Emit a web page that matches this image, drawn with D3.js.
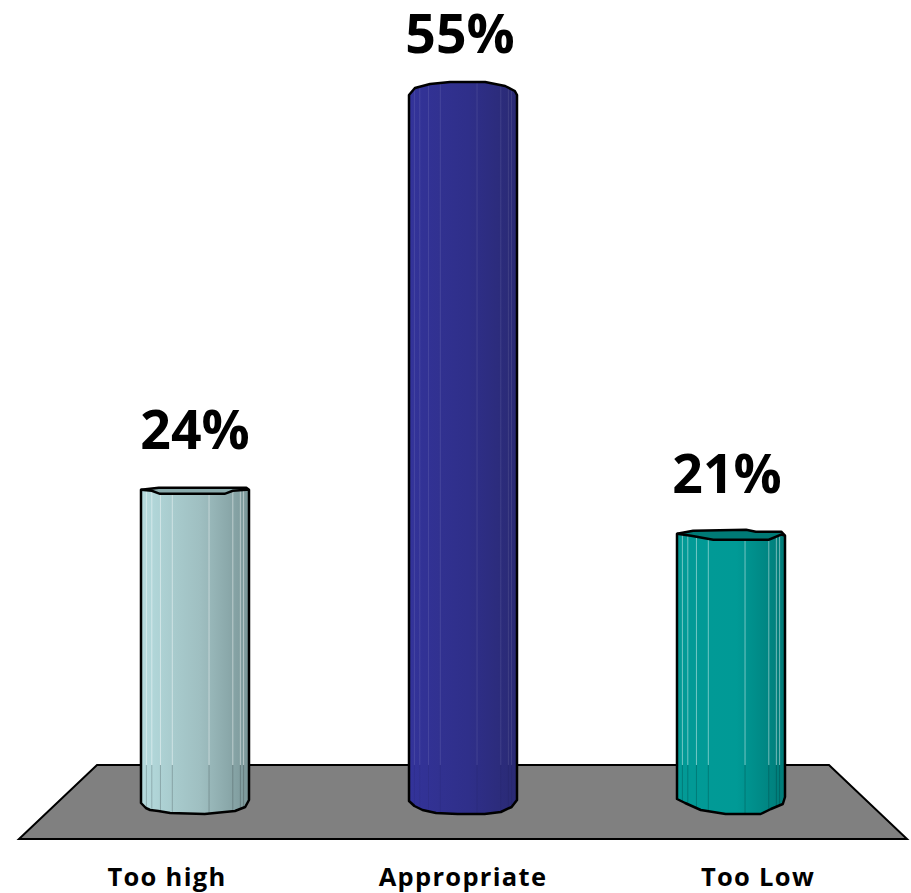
<!DOCTYPE html>
<html><head><meta charset="utf-8">
<script src="https://cdnjs.cloudflare.com/ajax/libs/d3/7.8.5/d3.min.js"></script>
<style>html,body{margin:0;padding:0;background:#fff}svg{display:block}</style>
</head><body><svg id="c" width="911" height="893"></svg>
<script>
const categories = ["Too high", "Appropriate", "Too Low"];
const values = [24.2, 55, 20.7];
const dataLabels = ["24%", "55%", "21%"];
const baseColors = [["#b6dcdf","#9fbfc1","#7b9799"],["#33339a","#2f2f8a","#2a2a74"],["#039a96","#009a96","#007b78"]];
const capColors = ["#8aabad", null, "#007a76"];

const svg = d3.select("#c");
const x = d3.scalePoint().domain(categories).range([195, 731]);
const y = d3.scaleLinear().domain([0, 55]).range([800, 95]);
const halfW = 54;
const line = d3.line();

// floor
svg.append("path").attr("d", line([[97,765],[829,765],[907,839],[19,839]]) + "Z")
  .attr("fill","#808080").attr("stroke","#000").attr("stroke-width",2).attr("stroke-linejoin","miter");

const defs = svg.append("defs");
const facets = [.05,.1,.18,.29,.63,.85,.92,.95];
const rimBottom = [
 [[-1,3],[-.91,8],[-.83,10],[-.68,11],[-.46,13],[.18,14],[.55,12],[.74,11],[.93,7],[1,0]],
 [[-1,1],[-.9,6],[-.75,10],[-.5,13],[-.1,14],[.4,14],[.7,12],[.9,7],[1,0]],
 [[-1,-1],[-.85,3],[-.56,10],[-.1,14],[.55,14],[.74,9],[.96,4],[1,-3]]
];
const rimTop = [
 {back:[[-1,0],[-.67,-2],[.95,-2],[1,0]], front:[[-1,0],[-.8,1],[-.65,4],[.55,4],[.7,1],[.95,0],[1,0]]},
 {back:[[-1,0],[-.89,-7],[-.61,-11],[-.24,-13],[.41,-13],[.78,-9],[.96,-4],[1,0]], front:null},
 {back:[[-1,-1],[-.7,-4],[.28,-5],[.46,-3],[.93,-3],[1,1]], front:[[-1,-1],[-.74,1],[-.33,5],[.7,5],[.93,0],[1,1]]}
];
const labelShift = [0, -3, -4];
const labelLift = [41, 42, 42];
const catShift = [-28, 0, 27];

const g = svg.selectAll("g.bar").data(categories).join("g").attr("class","bar");
g.each(function(cat,i){
  const sel = d3.select(this), cx = x(cat), top = y(values[i]), bot = y(0);
  const px = t => cx + t*halfW;
  const id = "grad"+i, cols = baseColors[i];
  const gr = defs.append("linearGradient").attr("id",id);
  gr.append("stop").attr("offset","0").attr("stop-color",cols[0]);
  gr.append("stop").attr("offset","0.3").attr("stop-color",d3.interpolateRgb(cols[0],cols[1])(.6));
  gr.append("stop").attr("offset","0.55").attr("stop-color",cols[1]);
  gr.append("stop").attr("offset","1").attr("stop-color",cols[2]);

  const topEdge = rimTop[i].front || rimTop[i].back;
  const pts = topEdge.map(d=>[px(d[0]),top+d[1]])
    .concat(rimBottom[i].slice().reverse().map(d=>[px(d[0]),bot+d[1]]));
  const clipId = "clip"+i;
  defs.append("clipPath").attr("id",clipId).append("path").attr("d",line(pts)+"Z");
  sel.append("path").attr("d",line(pts)+"Z").attr("fill",`url(#${id})`);

  // facet highlights
  const fl = sel.append("g").attr("clip-path",`url(#${clipId})`);
  const lightOp = i===1 ? .1 : .45;
  facets.forEach(f=>{
    const fx = cx - halfW + f*2*halfW;
    fl.append("line").attr("x1",fx).attr("x2",fx).attr("y1",top-15).attr("y2",765)
      .attr("stroke","#fff").attr("stroke-opacity",lightOp).attr("stroke-width",1);
    fl.append("line").attr("x1",fx).attr("x2",fx).attr("y1",765).attr("y2",bot+15)
      .attr("stroke","#000").attr("stroke-opacity",i===1?.06:.2).attr("stroke-width",1);
  });

  // outline
  const outline = rimTop[i].back.map(d=>[px(d[0]),top+d[1]])
    .concat(rimBottom[i].slice().reverse().map(d=>[px(d[0]),bot+d[1]]));
  if (rimTop[i].front) {
    const cap = rimTop[i].back.map(d=>[px(d[0]),top+d[1]])
      .concat(rimTop[i].front.slice().reverse().map(d=>[px(d[0]),top+d[1]]));
    sel.append("path").attr("d",line(cap)+"Z").attr("fill",capColors[i]);
    sel.append("path").attr("d",line(rimTop[i].front.map(d=>[px(d[0]),top+d[1]])))
      .attr("fill","none").attr("stroke","#000").attr("stroke-width",2.5);
  }
  sel.append("path").attr("d",line(outline)+"Z").attr("fill","none")
    .attr("stroke","#000").attr("stroke-width",2.5).attr("stroke-linejoin","round");

  // value label
  sel.append("text").attr("x",cx+labelShift[i]).attr("y",top-labelLift[i]).attr("text-anchor","middle")
    .attr("font-family","'Open Sans',sans-serif").attr("font-weight",700).attr("font-size",53.5)
    .attr("fill","#000").text(dataLabels[i]);
});

// category labels
svg.selectAll("text.cat").data(categories).join("text").attr("class","cat")
  .attr("x",(d,i)=>x(d)+catShift[i]).attr("y",886).attr("text-anchor","middle")
  .attr("font-family","'Open Sans',sans-serif").attr("font-weight",700).attr("font-size",25.5)
  .attr("letter-spacing",1.3)
  .attr("fill","#000").text(d=>d);
</script></body></html>
